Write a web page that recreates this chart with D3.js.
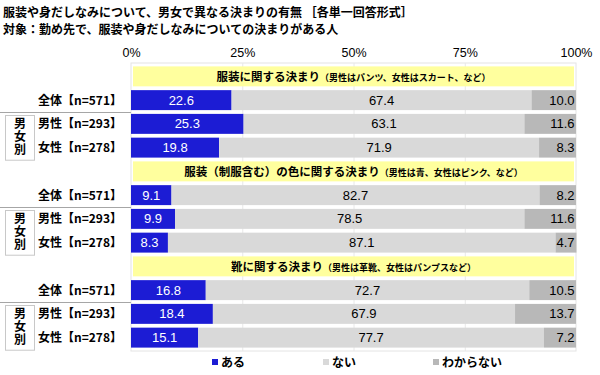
<!DOCTYPE html>
<html><head><meta charset="utf-8">
<script src="https://cdn.jsdelivr.net/npm/d3@7"></script>
<style>
body{margin:0;background:#fff;}
svg{display:block;}
</style></head>
<body>
<svg id="chart" width="600" height="375"></svg>
<script>
const titleLines = ["服装や身だしなみについて、男女で異なる決まりの有無 ［各単一回答形式］", "対象：勤め先で、服装や身だしなみについての決まりがある人"];
const sectionMain = ["服装に関する決まり", "服装（制服含む）の色に関する決まり", "靴に関する決まり"];
const sectionSub = ["（男性はパンツ、女性はスカート、など）", "（男性は青、女性はピンク、など）", "（男性は革靴、女性はパンプスなど）"];
const groups = ["全体【n=571】", "男性【n=293】", "女性【n=278】"];
const seriesNames = ["ある", "ない", "わからない"];
const aru = [22.6, 25.3, 19.8, 9.1, 9.9, 8.3, 16.8, 18.4, 15.1];
const nai = [67.4, 63.1, 71.9, 82.7, 78.5, 87.1, 72.7, 67.9, 77.7];
const wakaranai = [10.0, 11.6, 8.3, 8.2, 11.6, 4.7, 10.5, 13.7, 7.2];
const tickValues = [0, 25, 50, 75, 100];
const sideLabel = "男女別";

const colors = {"ある": "#1c1cd4", "ない": "#d9d9d9", "わからない": "#b8b8b8"};
const jp = "'Noto Sans CJK JP', sans-serif";
const num = "'Liberation Sans', Arial, sans-serif";

const svg = d3.select("#chart");

const rows = [];
sectionMain.forEach((m, s) => {
  rows.push({id: "h" + s, type: "header", s});
  groups.forEach((g, gi) => {
    const i = s * 3 + gi;
    rows.push({id: "b" + i, type: "bar", s, gi, label: g,
      "ある": aru[i], "ない": nai[i], "わからない": wakaranai[i]});
  });
});

const x = d3.scaleLinear().domain([0, 100]).range([131, 576]);
const y = d3.scaleBand().domain(rows.map(r => r.id)).range([64.5, 349.5]).paddingInner(0.16).paddingOuter(0.08);

svg.selectAll("text.title").data(titleLines).join("text")
  .attr("class", "title").attr("x", 3).attr("y", (d, i) => 17 + i * 17)
  .attr("font-family", jp).attr("font-weight", "bold").attr("font-size", 12)
  .attr("fill", "#000").text(d => d);

svg.append("rect").attr("x", x(0)).attr("y", 63).attr("width", x(100) - x(0)).attr("height", 288)
  .attr("fill", "#fff").attr("stroke", "#e4e4e4").attr("stroke-width", 1);

svg.selectAll("line.grid").data(tickValues.slice(1, -1)).join("line")
  .attr("class", "grid").attr("x1", d => x(d) + 0.5).attr("x2", d => x(d) + 0.5)
  .attr("y1", 63).attr("y2", 351).attr("stroke", "#e8e8e8");

const axis = d3.axisTop(x).tickValues(tickValues).tickFormat(d => d + "%").tickSize(0).tickPadding(0);
const ax = svg.append("g").attr("transform", "translate(0,57)").call(axis);
ax.select(".domain").remove();
ax.selectAll("text").attr("font-family", num).attr("font-size", 12.5).attr("fill", "#000");

const headers = rows.filter(r => r.type === "header");
svg.selectAll("rect.hdr").data(headers).join("rect")
  .attr("class", "hdr").attr("x", x(0) + 2).attr("width", x(100) - x(0) - 4)
  .attr("y", d => y(d.id)).attr("height", y.bandwidth()).attr("fill", "#ffff9e");
const ht = svg.selectAll("text.hdr").data(headers).join("text")
  .attr("class", "hdr").attr("x", (x(0) + x(100)) / 2).attr("y", d => y(d.id) + y.bandwidth() / 2 + 4.5)
  .attr("text-anchor", "middle").attr("font-family", jp).attr("font-weight", "bold").attr("fill", "#000");
ht.append("tspan").attr("font-size", 11.5).text(d => sectionMain[d.s]);
ht.append("tspan").attr("font-size", 9).text(d => sectionSub[d.s]);

const barRows = rows.filter(r => r.type === "bar");
const stack = d3.stack().keys(seriesNames)(barRows);
const layer = svg.selectAll("g.layer").data(stack).join("g").attr("class", "layer")
  .attr("fill", d => colors[d.key]);
layer.selectAll("rect").data(d => d).join("rect")
  .attr("x", d => x(d[0])).attr("width", d => x(d[1]) - x(d[0]))
  .attr("y", d => y(d.data.id)).attr("height", y.bandwidth());

stack.forEach(ser => {
  svg.append("g").selectAll("text").data(ser).join("text")
    .attr("x", d => ser.key === "わからない" ? x(100) - 1.5 : (x(d[0]) + x(d[1])) / 2)
    .attr("text-anchor", ser.key === "わからない" ? "end" : "middle")
    .attr("y", d => y(d.data.id) + y.bandwidth() / 2 + 4.5)
    .attr("font-family", num).attr("font-size", 13)
    .attr("fill", ser.key === "ある" ? "#fff" : "#000")
    .text(d => (d[1] - d[0]).toFixed(1));
});

svg.selectAll("text.rowlab").data(barRows).join("text")
  .attr("class", "rowlab").attr("x", 122).attr("y", d => y(d.id) + y.bandwidth() / 2 + 4.5)
  .attr("text-anchor", "end").attr("font-family", jp).attr("font-weight", "bold").attr("font-size", 12)
  .attr("fill", "#000").text(d => d.label);

sectionMain.forEach((m, s) => {
  const r1 = "b" + (s * 3 + 1), r2 = "b" + (s * 3 + 2);
  const sepY = Math.round(y(r1) - 2) + 0.5;
  svg.append("line").attr("x1", 0).attr("x2", x(0)).attr("y1", sepY).attr("y2", sepY)
    .attr("stroke", "#a6a6a6").attr("stroke-width", 1);
  const top = y(r1) + 1, bot = y(r2) + y.bandwidth() + 2;
  svg.append("rect").attr("x", 5.5).attr("y", Math.round(top) + 0.5).attr("width", 29).attr("height", bot - top)
    .attr("fill", "#fff").attr("stroke", "#c8c8c8");
  const cy = (top + bot) / 2;
  svg.append("text")
    .attr("x", 20).attr("y", cy)
    .attr("writing-mode", "vertical-rl").style("writing-mode", "vertical-rl")
    .attr("text-anchor", "middle").attr("letter-spacing", 1)
    .attr("font-family", jp).attr("font-weight", "bold").attr("font-size", 12)
    .attr("fill", "#000").text(sideLabel);
});

const legX = [212, 323, 433];
const lg = svg.selectAll("g.leg").data(seriesNames).join("g").attr("class", "leg")
  .attr("transform", (d, i) => `translate(${legX[i]},362)`);
lg.append("rect").attr("x", 0).attr("y", -3).attr("width", 6).attr("height", 6).attr("fill", d => colors[d]);
lg.append("text").attr("x", 9).attr("y", 4.5).attr("font-family", jp).attr("font-weight", "bold").attr("font-size", 12)
  .attr("fill", "#000").text(d => d);
</script>
</body></html>
